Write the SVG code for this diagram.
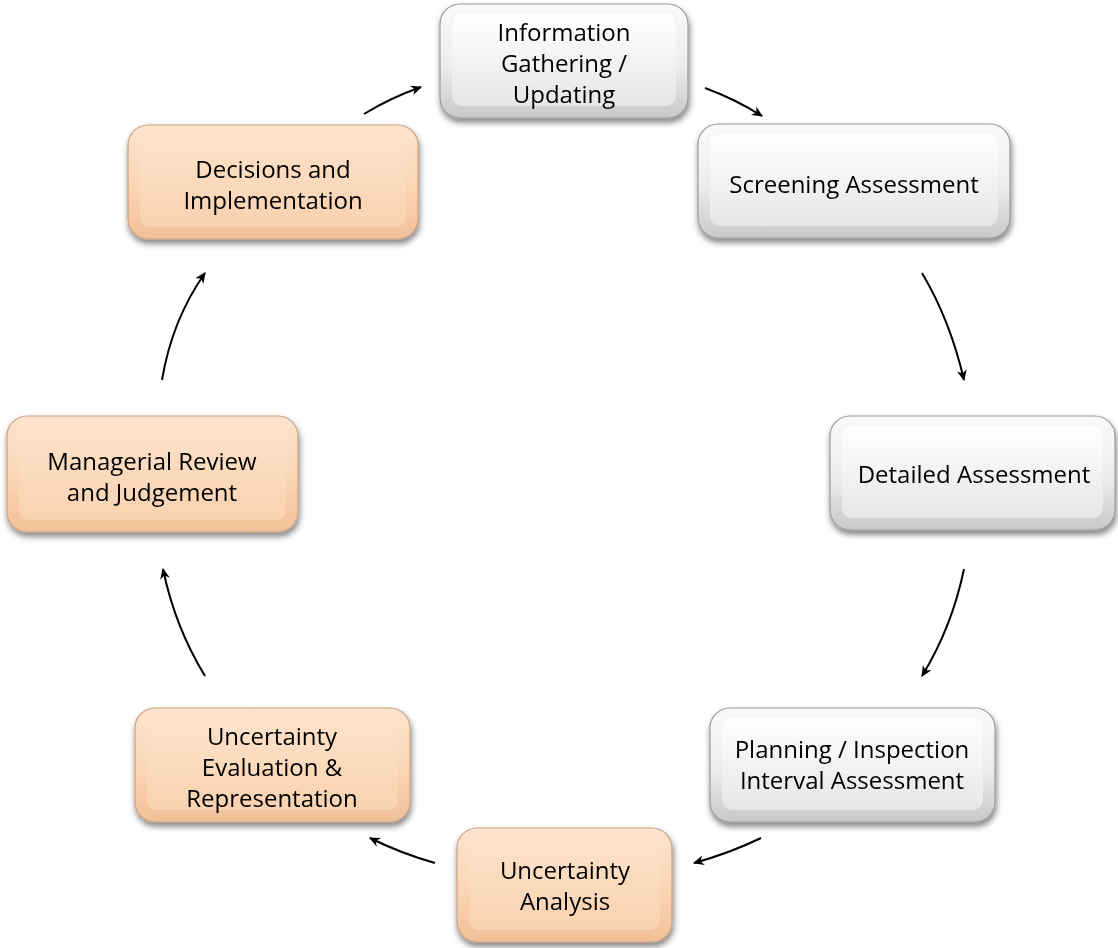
<svg xmlns="http://www.w3.org/2000/svg" width="1118" height="948" viewBox="0 0 1118 948">
<defs>
<linearGradient id="gGray" x1="0" y1="0" x2="0" y2="1">
<stop offset="0" stop-color="#fafafa"/>
<stop offset="0.55" stop-color="#ececec"/>
<stop offset="1" stop-color="#c8c8c8"/>
</linearGradient>
<linearGradient id="gGrayIn" x1="0" y1="0" x2="0" y2="1">
<stop offset="0" stop-color="#ffffff"/>
<stop offset="1" stop-color="#e6e6e6"/>
</linearGradient>
<linearGradient id="gPeach" x1="0" y1="0" x2="0" y2="1">
<stop offset="0" stop-color="#fde4cd"/>
<stop offset="0.55" stop-color="#fad5b4"/>
<stop offset="1" stop-color="#f2c097"/>
</linearGradient>
<linearGradient id="gPeachIn" x1="0" y1="0" x2="0" y2="1">
<stop offset="0" stop-color="#fde2c9"/>
<stop offset="1" stop-color="#f9d2b0"/>
</linearGradient>
<filter id="sh" x="-10%" y="-10%" width="125%" height="130%">
<feGaussianBlur in="SourceAlpha" stdDeviation="3"/>
<feOffset dx="1" dy="4" result="b"/>
<feComponentTransfer><feFuncA type="linear" slope="0.5"/></feComponentTransfer>
<feMerge><feMergeNode/><feMergeNode in="SourceGraphic"/></feMerge>
</filter>
<marker id="ah" viewBox="0 0 10 10" refX="9" refY="5" markerWidth="11" markerHeight="11" markerUnits="userSpaceOnUse" orient="auto">
<path d="M0,0.5 L10,5 L0,9.5 L3,5 Z" fill="#000"/>
</marker>
</defs>
<style>
.gray .o{fill:url(#gGray);stroke:#9a9a9a;stroke-width:1.2}
.gray .i{fill:url(#gGrayIn);stroke:none}
.peach .o{fill:url(#gPeach);stroke:#c9a184;stroke-width:1.2}
.peach .i{fill:url(#gPeachIn);stroke:none}
text{font-family:"Open Sans","Liberation Sans",sans-serif;font-size:24px;fill:#000;text-anchor:middle}
.c path{fill:none;stroke:#000;stroke-width:2;marker-end:url(#ah)}
</style>
<rect width="1118" height="948" fill="#fff"/>

<g id="n1" class="gray" filter="url(#sh)">
<rect class="o" x="440" y="4" width="248" height="114" rx="20"/>
<rect class="i" x="452" y="14" width="224" height="92" rx="10"/>
<text x="564" y="41">Information</text>
<text x="564" y="72">Gathering /</text>
<text x="564" y="103">Updating</text>
</g>
<g id="n2" class="gray" filter="url(#sh)">
<rect class="o" x="698" y="124" width="312" height="114" rx="20"/>
<rect class="i" x="710" y="134" width="288" height="92" rx="10"/>
<text x="854" y="193">Screening Assessment</text>
</g>
<g id="n3" class="gray" filter="url(#sh)">
<rect class="o" x="830" y="416" width="285" height="114" rx="20"/>
<rect class="i" x="842" y="426" width="261" height="92" rx="10"/>
<text x="974" y="483">Detailed Assessment</text>
</g>
<g id="n4" class="gray" filter="url(#sh)">
<rect class="o" x="710" y="708" width="285" height="114" rx="20"/>
<rect class="i" x="722" y="718" width="261" height="92" rx="10"/>
<text x="852" y="758">Planning / Inspection</text>
<text x="852" y="789">Interval Assessment</text>
</g>
<g id="n5" class="peach" filter="url(#sh)">
<rect class="o" x="457" y="828" width="215" height="114" rx="20"/>
<rect class="i" x="469" y="838" width="191" height="92" rx="10"/>
<text x="565" y="879">Uncertainty</text>
<text x="565" y="910">Analysis</text>
</g>
<g id="n6" class="peach" filter="url(#sh)">
<rect class="o" x="135" y="708" width="275" height="114" rx="20"/>
<rect class="i" x="147" y="718" width="251" height="92" rx="10"/>
<text x="272" y="745">Uncertainty</text>
<text x="272" y="776">Evaluation &amp;</text>
<text x="272" y="807">Representation</text>
</g>
<g id="n7" class="peach" filter="url(#sh)">
<rect class="o" x="7" y="416" width="291" height="116" rx="20"/>
<rect class="i" x="19" y="426" width="267" height="94" rx="10"/>
<text x="152" y="470">Managerial Review</text>
<text x="152" y="501">and Judgement</text>
</g>
<g id="n8" class="peach" filter="url(#sh)">
<rect class="o" x="128" y="125" width="290" height="114" rx="20"/>
<rect class="i" x="140" y="135" width="266" height="92" rx="10"/>
<text x="273" y="178">Decisions and</text>
<text x="273" y="209">Implementation</text>
</g>

<g id="connectors" class="c">
<path d="M364,114 Q390,98 421,87"/>
<path d="M705,88 Q735,99 762,116"/>
<path d="M922,273 Q950,320 964,380"/>
<path d="M964,569 Q952,627 922,676"/>
<path d="M761,838 Q730,853 694,863"/>
<path d="M435,863 Q400,853 370,838"/>
<path d="M205,676 Q175,627 163,569"/>
<path d="M162,380 Q172,320 205,273"/>
</g>
</svg>
